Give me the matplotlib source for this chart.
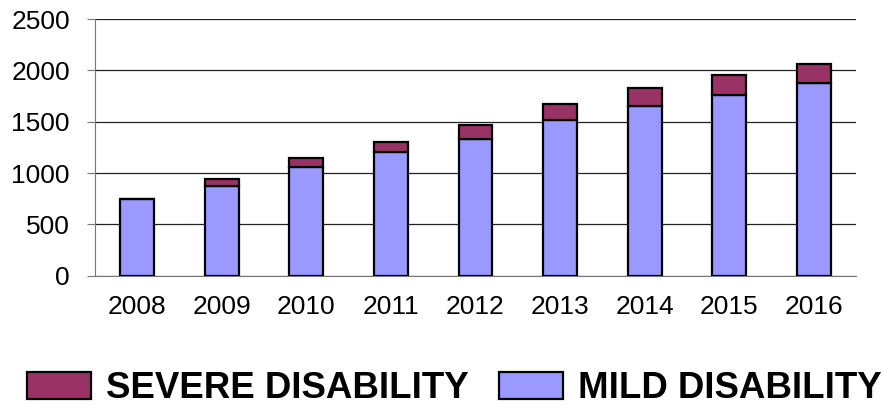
import matplotlib.pyplot as plt
import numpy as np

plt.rcParams['font.family'] = ['Liberation Sans', 'DejaVu Sans']

years = ['2008', '2009', '2010', '2011', '2012', '2013', '2014', '2015', '2016']
mild = [745, 873, 1062, 1201, 1331, 1516, 1656, 1760, 1873]
severe = [0, 65, 81, 104, 140, 153, 175, 191, 192]

MILD_COLOR = '#9999FF'
SEVERE_COLOR = '#993366'

fig = plt.figure(figsize=(8.82, 4.08), dpi=100)
ax = fig.add_axes([0.1077, 0.3243, 0.8628, 0.6291])

x = np.arange(len(years))
barMild = ax.bar(x, mild, width=0.4, color=MILD_COLOR, edgecolor='black',
                 linewidth=1.6, label='MILD DISABILITY', zorder=3)
barSevere = ax.bar(x, severe, width=0.4, bottom=mild, color=SEVERE_COLOR,
                   edgecolor='black', linewidth=1.6, label='SEVERE DISABILITY', zorder=3)

ax.set_xlim(-0.5, len(years) - 0.5)
ax.set_ylim(0, 2500)
ax.set_yticks(np.arange(0, 2501, 500))
ax.set_xticks(x)
ax.set_xticklabels(years)
ax.yaxis.grid(True, color='#222222', linewidth=0.9, zorder=0)
ax.set_axisbelow(True)

for s in ['top', 'right']:
    ax.spines[s].set_visible(False)
ax.spines['left'].set_color('#777777')
ax.spines['bottom'].set_color('#777777')
ax.tick_params(axis='y', length=6, color='#777777', labelsize=19, pad=12)
ax.tick_params(axis='x', length=0, labelsize=19, pad=14)

fig.legend(handles=[barSevere, barMild], labels=['SEVERE DISABILITY', 'MILD DISABILITY'],
           loc='center', bbox_to_anchor=(0.515, 0.047), ncol=2, frameon=False,
           prop={'weight': 'bold', 'size': 26.4}, handlelength=1.74, handleheight=0.76,
           handletextpad=0.41, columnspacing=0.82, borderpad=0, borderaxespad=0)

fig.savefig('out.png', dpi=100)
